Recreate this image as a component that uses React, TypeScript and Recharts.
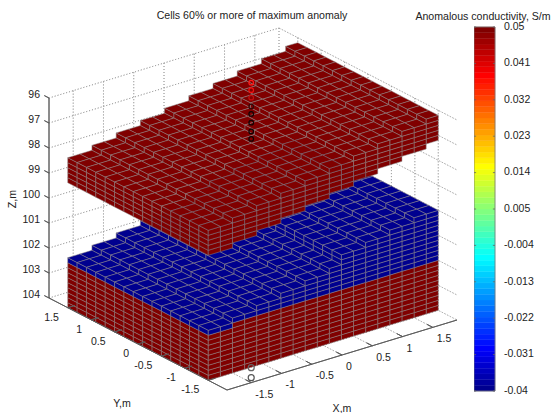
// App.tsx
import React from "react";
import {
  ScatterChart,
  Scatter,
  XAxis,
  YAxis,
  ReferenceArea,
  ReferenceLine,
} from "recharts";

const xEdges = [-1.9, -1.7, -1.5, -1.3, -1.1, -0.9, -0.7, -0.5, -0.3, -0.1, 0.1, 0.3, 0.5, 0.7, 0.9, 1.1, 1.3, 1.5, 1.7, 1.9];
const yEdges = [-1.5, -1.3, -1.1, -0.9, -0.7, -0.5, -0.3, -0.1, 0.1, 0.3, 0.5, 0.7, 0.9, 1.1, 1.3, 1.5];

// top of each x column, in metres of depth
const upperTopZ = [98, 98, 97.8, 97.8, 97.6, 97.6, 97.4, 97.4, 97.2, 97.2, 97, 97, 96.8, 96.8, 96.6, 96.6, 96.4, 96.4, 96.2];
const lowerTopZ = [102, 102, 101.8, 101.8, 101.6, 101.6, 101.4, 101.4, 101.2, 101.2, 101, 100.6, 100.6, 100.4, 100.4, 100.2, 100.2, 100, 100];

const upperThickness = 1;
const lowerBaseZ = 104;
const lowerBoundaryZ = 102;
const layerStep = 0.2;

const upperValue = 0.05;
const lowerTopValue = -0.04;
const lowerBaseValue = 0.05;

const xTicks = [-1.5, -1, -0.5, 0, 0.5, 1, 1.5];
const yTicks = [-1.5, -1, -0.5, 0, 0.5, 1, 1.5];
const zTicks = [96, 97, 98, 99, 100, 101, 102, 103, 104];

const markerZ = [92, 92.3, 92.6, 92.95, 93.25, 93.6, 93.95, 94.25, 103.4, 103.8];
const markerColors = ["#ff1818", "#f01010", "#c01010", "#300808", "#100404", "#100404", "#100404", "#100404", "#666666", "#555555"];

const barTicks = [-0.04, -0.031, -0.022, -0.013, -0.004, 0.005, 0.014, 0.023, 0.032, 0.041, 0.05];
const jet = [
  "#00008f", "#00009f", "#0000af", "#0000bf", "#0000cf", "#0000df", "#0000ef", "#0000ff",
  "#0010ff", "#0020ff", "#0030ff", "#0040ff", "#0050ff", "#0060ff", "#0070ff", "#0080ff",
  "#008fff", "#009fff", "#00afff", "#00bfff", "#00cfff", "#00dfff", "#00efff", "#00ffff",
  "#10ffef", "#20ffdf", "#30ffcf", "#40ffbf", "#50ffaf", "#60ff9f", "#70ff8f", "#80ff80",
  "#8fff70", "#9fff60", "#afff50", "#bfff40", "#cfff30", "#dfff20", "#efff10", "#ffff00",
  "#ffef00", "#ffdf00", "#ffcf00", "#ffbf00", "#ffaf00", "#ff9f00", "#ff8f00", "#ff8000",
  "#ff7000", "#ff6000", "#ff5000", "#ff4000", "#ff3000", "#ff2000", "#ff1000", "#ff0000",
  "#ef0000", "#df0000", "#cf0000", "#bf0000", "#af0000", "#9f0000", "#8f0000", "#800000",
];

const FONT = "Liberation Sans, Arial, sans-serif";
const WIDTH = 552;
const HEIGHT = 413;
const BAR_MIN = -0.04;
const BAR_MAX = 0.05;
const EDGE = "#8a8585";

// orthographic view of the box, same as the matlab camera
const project = (x: number, y: number, z: number) => {
  const u = (x + 1.9) / 3.8;
  const v = (y + 1.9) / 3.8;
  return {
    sx: 227 + 230 * u - 178 * v,
    sy: 390 - 70 * u - 92 * v - (104 - z) * 25,
  };
};

const colorOf = (value: number) => {
  const t = (value - BAR_MIN) / (BAR_MAX - BAR_MIN);
  return jet[Math.min(63, Math.round(t * 63))];
};

type Pt = [number, number, number];
const verts: any[] = [];
const addPoly = (pts: Pt[], style: any) => {
  pts.forEach((p, n) => {
    verts.push({
      ...project(p[0], p[1], p[2]),
      id: verts.length,
      count: pts.length,
      last: n === pts.length - 1,
      ...style,
    });
  });
};

const addColumn = (i: number, j: number, top: number, bottom: number, prevTop: number | null, colorAt: (z: number) => string) => {
  const x0 = xEdges[i];
  const x1 = xEdges[i + 1];
  const y0 = yEdges[j];
  const y1 = yEdges[j + 1];
  const layers = Math.round((bottom - top) / layerStep);
  for (let k = layers - 1; k >= 0; k--) {
    const zt = top + k * layerStep;
    const zb = zt + layerStep;
    const fill = colorAt(zt);
    const exposedX = prevTop === null || zb <= prevTop + 1e-6;
    if (exposedX) {
      addPoly([[x0, y0, zt], [x0, y1, zt], [x0, y1, zb], [x0, y0, zb]], { fill, stroke: EDGE });
    }
    if (j === 0) {
      addPoly([[x0, y0, zt], [x1, y0, zt], [x1, y0, zb], [x0, y0, zb]], { fill, stroke: EDGE });
    }
  }
  addPoly([[x0, y0, top], [x1, y0, top], [x1, y1, top], [x0, y1, top]], { fill: colorAt(top), stroke: EDGE });
};

// painter's order, far columns first, lower block under the upper one
for (let i = lowerTopZ.length - 1; i >= 0; i--) {
  for (let j = yEdges.length - 2; j >= 0; j--) {
    addColumn(i, j, lowerTopZ[i], lowerBaseZ, i > 0 ? lowerTopZ[i - 1] : null, (z) =>
      colorOf(z < lowerBoundaryZ - 1e-6 || z === lowerTopZ[i] ? lowerTopValue : lowerBaseValue)
    );
  }
}
for (let i = upperTopZ.length - 1; i >= 0; i--) {
  for (let j = yEdges.length - 2; j >= 0; j--) {
    addColumn(i, j, upperTopZ[i], upperTopZ[i] + upperThickness, i > 0 ? upperTopZ[i - 1] : null, () => colorOf(upperValue));
  }
}
const blockVerts = verts.splice(0, verts.length);

// walls and floor
const GRID = { fill: "none", stroke: "#9c9c9c", dash: "1 2", width: 0.8 };
zTicks.forEach((z) => {
  addPoly([[-1.9, 1.9, z], [1.9, 1.9, z]], GRID);
  addPoly([[1.9, 1.9, z], [1.9, -1.9, z]], GRID);
});
xTicks.forEach((x) => {
  addPoly([[x, 1.9, 96], [x, 1.9, 104]], GRID);
  addPoly([[x, -1.9, 104], [x, 1.9, 104]], GRID);
});
yTicks.forEach((y) => {
  addPoly([[1.9, y, 96], [1.9, y, 104]], GRID);
  addPoly([[-1.9, y, 104], [1.9, y, 104]], GRID);
});
addPoly([[1.9, 1.9, 96], [1.9, 1.9, 104]], GRID);
const gridVerts = verts.splice(0, verts.length);

// axes
const AXIS = { fill: "none", stroke: "#5a5a5a", width: 0.9 };
addPoly([[-1.9, 1.9, 96], [-1.9, 1.9, 104]], AXIS);
addPoly([[-1.9, 1.9, 104], [-1.9, -1.9, 104]], AXIS);
addPoly([[-1.9, -1.9, 104], [1.9, -1.9, 104]], AXIS);
zTicks.forEach((z) => addPoly([[-1.9, 1.9, z], [-1.9, 2.0, z]], AXIS));
xTicks.forEach((x) => addPoly([[x, -1.9, 104], [x, -1.78, 104]], AXIS));
yTicks.forEach((y) => addPoly([[-1.9, y, 104], [-1.78, y, 104]], AXIS));
const axisVerts = verts.splice(0, verts.length);

const buffer: Record<number, [number, number]> = {};
const PolyShape = (props: any) => {
  const { cx, cy, payload } = props;
  buffer[payload.id] = [cx, cy];
  if (!payload.last) return <g />;
  const pts: string[] = [];
  for (let n = payload.count - 1; n >= 0; n--) {
    const p = buffer[payload.id - n];
    pts.push(`${p[0]},${p[1]}`);
  }
  return (
    <polygon
      points={pts.join(" ")}
      fill={payload.fill}
      stroke={payload.stroke}
      strokeWidth={payload.width ?? 0.5}
      strokeDasharray={payload.dash}
    />
  );
};

const zLabels = zTicks.map((z) => ({ ...project(-1.9, 1.9, z), label: String(z), anchor: "end", dx: -9, dy: -4, size: 10.5 }));
const xLabels = xTicks.map((x) => ({ ...project(x, -1.9, 104), label: String(x), anchor: "start", dx: 4, dy: 11, size: 10.5 }));
const yLabels = yTicks.map((y) => ({ ...project(-1.9, y, 104), label: String(y), anchor: "end", dx: -9, dy: 9, size: 10.5 }));
const titleLabels = [
  { sx: 252, sy: 15, label: "Cells 60% or more of maximum anomaly", anchor: "middle", dx: 0, dy: 0, size: 10.6 },
  { sx: 483, sy: 16, label: "Anomalous conductivity, S/m", anchor: "middle", dx: 0, dy: 0, size: 10.6 },
  { sx: 122, sy: 403, label: "Y,m", anchor: "middle", dx: 0, dy: 0, size: 10.6 },
  { sx: 342, sy: 408, label: "X,m", anchor: "middle", dx: 0, dy: 0, size: 10.6 },
  { sx: 12, sy: 199, label: "Z,m", anchor: "middle", dx: 0, dy: 0, rotate: -90, size: 10.6 },
];

const TextShape = (props: any) => {
  const { cx, cy, payload } = props;
  const tx = cx + payload.dx;
  const ty = cy + payload.dy;
  return (
    <text
      x={tx}
      y={ty}
      textAnchor={payload.anchor}
      dominantBaseline="central"
      fontFamily={FONT}
      fontSize={payload.size}
      fill="#222"
      transform={payload.rotate ? `rotate(${payload.rotate} ${tx} ${ty})` : undefined}
    >
      {payload.label}
    </text>
  );
};

const markers = markerZ.map((z, i) => ({ ...project(-1.5, -1.9, z), color: markerColors[i], r: i > 7 ? 3 : 2.3 }));
const MarkerShape = (props: any) => (
  <circle cx={props.cx} cy={props.cy} r={props.payload.r} fill="none" stroke={props.payload.color} strokeWidth={1.2} />
);

const bands = jet.map((color, i) => ({
  color,
  px: 0.5,
  from: BAR_MIN + (i * (BAR_MAX - BAR_MIN)) / jet.length,
  to: BAR_MIN + ((i + 1) * (BAR_MAX - BAR_MIN)) / jet.length,
}));

const series = [
  { name: "grid", data: gridVerts, shape: PolyShape },
  { name: "cells", data: blockVerts, shape: PolyShape },
  { name: "axes", data: axisVerts, shape: PolyShape },
  { name: "markers", data: markers, shape: MarkerShape },
  { name: "zLabels", data: zLabels, shape: TextShape },
  { name: "xLabels", data: xLabels, shape: TextShape },
  { name: "yLabels", data: yLabels, shape: TextShape },
  { name: "titles", data: titleLabels, shape: TextShape },
];

const ColorBar = () => (
  <ScatterChart width={78} height={HEIGHT} margin={{ top: 27, right: 0, bottom: 22, left: 0 }}>
    <XAxis type="number" dataKey="px" domain={[0, 1]} hide />
    <YAxis
      type="number"
      dataKey="from"
      orientation="right"
      width={57}
      domain={[BAR_MIN, BAR_MAX]}
      ticks={barTicks}
      interval={0}
      axisLine={false}
      tickLine={false}
      tickMargin={3}
      tick={{ fontSize: 10.5, fontFamily: FONT, fill: "#222", dy: -1 }}
    />
    <Scatter data={bands} shape={() => <g />} isAnimationActive={false} />
    {bands.map((b) => (
      <ReferenceArea key={b.from} x1={0} x2={1} y1={b.from} y2={b.to} fill={b.color} fillOpacity={1} stroke={b.color} strokeWidth={0.4} ifOverflow="visible" />
    ))}
    <ReferenceArea x1={0} x2={1} y1={BAR_MIN} y2={BAR_MAX} fill="none" stroke="#777" strokeWidth={0.8} ifOverflow="visible" />
    {barTicks.map((t) => (
      <ReferenceLine key={`l${t}`} segment={[{ x: 0, y: t }, { x: 0.1, y: t }]} stroke="#666" strokeWidth={0.8} ifOverflow="visible" />
    ))}
    {barTicks.map((t) => (
      <ReferenceLine key={`r${t}`} segment={[{ x: 0.9, y: t }, { x: 1, y: t }]} stroke="#666" strokeWidth={0.8} ifOverflow="visible" />
    ))}
  </ScatterChart>
);

export default function App() {
  return (
    <div style={{ position: "absolute", left: 0, top: 0, width: WIDTH, height: HEIGHT, background: "#fff", overflow: "hidden" }}>
      <ScatterChart width={WIDTH} height={HEIGHT} margin={{ top: 0, right: 0, bottom: 0, left: 0 }}>
        <XAxis type="number" dataKey="sx" domain={[0, WIDTH]} hide />
        <YAxis type="number" dataKey="sy" domain={[0, HEIGHT]} reversed hide />
        {series.map((s) => (
          <Scatter key={s.name} name={s.name} data={s.data} shape={s.shape} isAnimationActive={false} />
        ))}
      </ScatterChart>
      <div style={{ position: "absolute", left: 474, top: 0, zIndex: 2 }}>
        <ColorBar />
      </div>
    </div>
  );
}
